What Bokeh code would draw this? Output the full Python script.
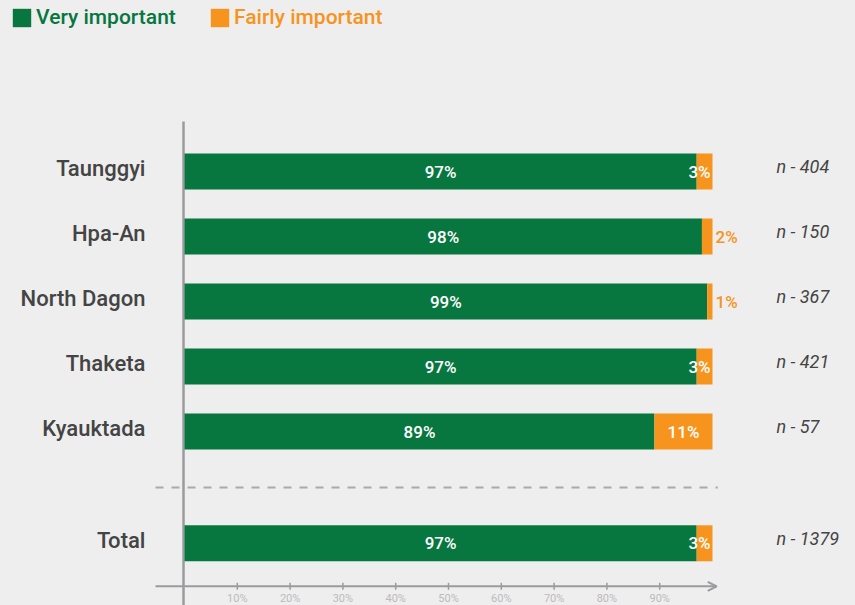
import math
from bokeh.plotting import figure
from bokeh.models import Range1d, ColumnDataSource, Legend, LegendItem, Arrow, OpenHead
from bokeh.core.properties import value
from bokeh.embed import file_html
from bokeh.resources import INLINE

# ---------------- data ----------------
categories = ["Taunggyi", "Hpa-An", "North Dagon", "Thaketa", "Kyauktada", "Total"]
very_important = [97, 98, 99, 97, 89, 97]
fairly_important = [3, 2, 1, 3, 11, 3]
sample_sizes = [404, 150, 367, 421, 57, 1379]
series_names = ["Very important", "Fairly important"]
tick_values = [10, 20, 30, 40, 50, 60, 70, 80, 90]
tick_labels = ["10%", "20%", "30%", "40%", "50%", "60%", "70%", "80%", "90%"]

# ---------------- style / layout ----------------
W, H = 855, 605
BG = "#eeeeee"
GREEN = "#08763f"
ORANGE = "#f7941e"
AXIS = "#9b9b9f"
TEXT = "#444444"
FONT = "Roboto"
FONT_MED = "Roboto Medium"

X0_PX, X100_PX = 184, 712          # pixel positions of 0% and 100%
ROW0_PX, ROW_STEP = 171, 65         # first row centre, row spacing (px)
TOTAL_GAP = 0.72                    # extra space before the Total row (rows)
BAR_H = 36 / ROW_STEP

ppu = (X100_PX - X0_PX) / 100.0
x_start = -X0_PX / ppu
x_end = (W - X0_PX) / ppu
y_top = -ROW0_PX / ROW_STEP
y_bottom = (H - ROW0_PX) / ROW_STEP

n_city = len(categories) - 1
ypos = list(range(n_city)) + [n_city + TOTAL_GAP]

totals = [a + b for a, b in zip(very_important, fairly_important)]
v_lab_x = [v / 2 for v in very_important]
inside = [f >= 3 for f in fairly_important]
clamp = 13 / ppu
f_lab_x = [min(v + f / 2, t - clamp) if ins else t for v, f, t, ins in
           zip(very_important, fairly_important, totals, inside)]

src = ColumnDataSource(dict(
    y=ypos, cat=categories, very=very_important, fairly=fairly_important,
    total=totals, vx=v_lab_x,
    vtxt=[f"{v}%" for v in very_important],
    ntxt=[f"n - {n}" for n in sample_sizes],
))
src_in = ColumnDataSource(dict(
    y=[y for y, i in zip(ypos, inside) if i],
    x=[x for x, i in zip(f_lab_x, inside) if i],
    t=[f"{f}%" for f, i in zip(fairly_important, inside) if i],
))
src_out = ColumnDataSource(dict(
    y=[y for y, i in zip(ypos, inside) if not i],
    x=[x for x, i in zip(f_lab_x, inside) if not i],
    t=[f"{f}%" for f, i in zip(fairly_important, inside) if not i],
))

p = figure(width=W, height=H, x_range=Range1d(x_start, x_end),
           y_range=Range1d(y_bottom, y_top), min_border=0,
           toolbar_location=None, output_backend="svg",
           x_axis_location=None, y_axis_location=None,
           background_fill_color=BG, border_fill_color=BG,
           outline_line_color=None)
p.grid.visible = False

# axes lines
axis_top = ypos[0] - 0.77
axis_y = ypos[-1] + 43 / ROW_STEP
p.segment(x0=[-1 / ppu], y0=[axis_top], x1=[-1 / ppu], y1=[y_bottom],
          line_color=AXIS, line_width=2.5)
p.add_layout(Arrow(end=OpenHead(size=9, line_color=AXIS, line_width=2),
                   x_start=-29 / ppu, y_start=axis_y, x_end=100.8, y_end=axis_y,
                   line_color=AXIS, line_width=2))
p.scatter(x=tick_values, y=[axis_y] * len(tick_values), marker="dash",
          angle=math.pi / 2, size=7, line_color=AXIS, line_width=1.5)
p.text(x=tick_values, y=[axis_y] * len(tick_values), text=tick_labels,
       text_align="center", text_baseline="top", y_offset=6,
       text_font=value(FONT), text_font_size="11px", text_color="#bbbbbb")

# separator
sep_y = (ypos[-2] + ypos[-1]) / 2
p.segment(x0=[-29 / ppu], y0=[sep_y], x1=[101], y1=[sep_y],
          line_color="#aaaaaa", line_width=2, line_dash="8 8")

# bars
r1 = p.hbar(y="y", left=0, right="very", height=BAR_H, source=src,
            fill_color=GREEN, line_color=None)
r2 = p.hbar(y="y", left="very", right="total", height=BAR_H, source=src,
            fill_color=ORANGE, line_color=None)

# labels
p.text(x="vx", y="y", text="vtxt", source=src, text_align="center",
       text_baseline="middle", text_font=value(FONT_MED), text_font_size="17px",
       text_color="white")
p.text(x="x", y="y", text="t", source=src_in, text_align="center",
       text_baseline="middle", text_font=value(FONT_MED), text_font_size="17px",
       text_color="white")
p.text(x="x", y="y", text="t", source=src_out, text_align="left", x_offset=3,
       text_baseline="middle", text_font=value(FONT_MED), text_font_size="17px",
       text_color=ORANGE)
p.text(x=0, y="y", text="cat", source=src, text_align="right", x_offset=-39,
       y_offset=-3, text_baseline="middle", text_font=value(FONT_MED),
       text_font_size="22px", text_color=TEXT)
p.text(x=(776 - X0_PX) / ppu, y="y", text="ntxt", source=src, text_align="left",
       y_offset=-5, text_baseline="middle", text_font=value(FONT),
       text_font_style="italic", text_font_size="18px", text_color=TEXT)

# legends
for r, name, col, lx in [(r1, series_names[0], GREEN, 10), (r2, series_names[1], ORANGE, 208)]:
    lg = Legend(items=[LegendItem(label=name, renderers=[r])], location=(lx, H - 6 - 23),
                orientation="horizontal", padding=0, margin=0, spacing=0,
                glyph_width=23, glyph_height=23, label_standoff=3, label_height=23,
                label_text_font=FONT_MED, label_text_font_size="21px",
                label_text_color=col, background_fill_alpha=0,
                border_line_color=None)
    p.add_layout(lg)

html = file_html(p, INLINE)
html = html.replace("</head>", "<style>html,body{margin:0;padding:0;background:#eeeeee;overflow:hidden}</style></head>", 1)
open("out.html", "w").write(html)
